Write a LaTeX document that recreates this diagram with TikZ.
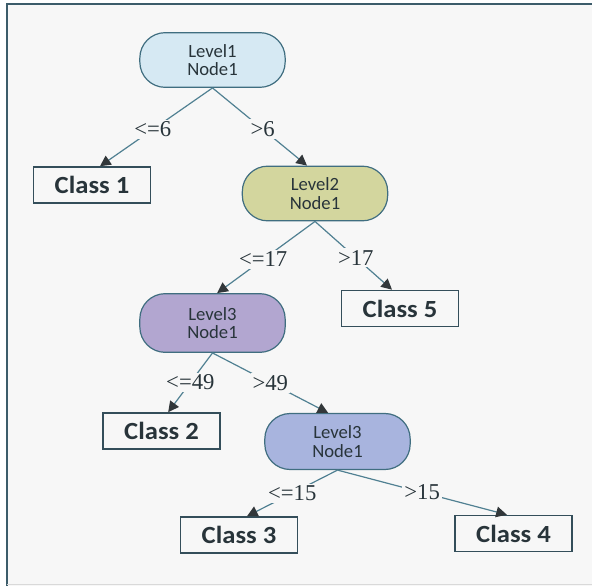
\documentclass[tikz,border=0pt]{standalone}
\usepackage{fontspec}
\usepackage{tikz}
\usetikzlibrary{arrows.meta}

\newfontfamily\clsfont[FakeStretch=1.08]{Carlito}
\newfontfamily\lvlfont{Carlito}
\newfontfamily\lblfont{Liberation Serif}

\definecolor{bgcol}{RGB}{247,247,247}
\definecolor{framecol}{RGB}{60,92,106}
\definecolor{nodeline}{RGB}{64,110,128}
\definecolor{boxline}{RGB}{52,78,90}
\definecolor{edgecol}{RGB}{80,128,146}
\definecolor{tipcol}{RGB}{50,55,58}
\definecolor{textgrey}{RGB}{40,52,58}
\definecolor{lvlone}{RGB}{214,233,243}
\definecolor{lvltwo}{RGB}{211,214,158}
\definecolor{lvlthree}{RGB}{178,166,208}
\definecolor{lvlfour}{RGB}{168,180,222}

\tikzset{
  lvl/.style={rectangle, rounded corners=19pt, draw=nodeline, line width=0.9pt,
    minimum width=109pt, minimum height=41pt, inner sep=0pt, align=center,
    font=\lvlfont\fontsize{14}{14}\selectfont, text=textgrey},
  cls/.style={rectangle, draw=boxline, line width=1.2pt, minimum width=88pt,
    minimum height=27pt, inner sep=0pt, font=\clsfont\bfseries\fontsize{18.5}{20}\selectfont, text=textgrey},
  cut/.style={fill=bgcol, inner sep=1.5pt, font=\lblfont\fontsize{17}{18}\selectfont, text=textgrey},
  branch/.style={draw=edgecol, line width=0.9pt, -{Triangle[length=8pt,width=8pt,color=tipcol]}},
}

\begin{document}
\begin{tikzpicture}[x=0.75pt,y=0.75pt,yscale=-1,xscale=1]
        \useasboundingbox (0,0) rectangle (592,586);
        %Frame
        \fill [bgcol] (6.5,3.5) rectangle (592,586) ;
        \draw [framecol, line width=1.5pt] (6.5,586) -- (6.5,3.5) -- (592,3.5) ;
        \draw [black!15, line width=0.75pt] (6.5,584) -- (592,584) ;

        % Decision Nodes
        \node [lvl, fill=lvlone] (l1) at (212.5,60) {Level1\\Node1};
        \node [lvl, fill=lvltwo] (l2) at (315,193.5) {Level2\\Node1};
        \node [lvl, fill=lvlthree, minimum height=44pt] (l3) at (212.5,323) {Level3\\Node1};
        \node [lvl, fill=lvlfour, minimum height=42pt] (l3b) at (337.5,441.5) {Level3\\Node1};

        % Class Nodes
        \node [cls] (c1) at (92,185) {Class 1};
        \node [cls] (c5) at (400,308.5) {Class 5};
        \node [cls] (c2) at (161.5,431) {Class 2};
        \node [cls] (c3) at (239,535) {Class 3};
        \node [cls] (c4) at (513.5,533.5) {Class 4};

        % Branches
        \draw [branch] (l1.south) -- node [cut, pos=0.53] {<=6} ([xshift=6pt]c1.north) ;
        \draw [branch] (l1.south) -- node [cut, pos=0.53] {>6} ([xshift=-6pt]l2.north) ;
        \draw [branch] (l2.south) -- node [cut, pos=0.53] {<=17} ([xshift=3.5pt]l3.north) ;
        \draw [branch] (l2.south) -- node [cut, pos=0.53] {>17} ([xshift=-6pt]c5.north) ;
        \draw [branch] (l3.south) -- node [cut, pos=0.5] {<=49} ([xshift=5pt]c2.north) ;
        \draw [branch] (l3.south) -- node [cut, pos=0.5] {>49} ([xshift=-7pt]l3b.north) ;
        \draw [branch] (l3b.south) -- node [cut, pos=0.5] {<=15} ([xshift=6pt]c3.north) ;
        \draw [branch] (l3b.south) -- node [cut, pos=0.5] {>15} ([xshift=-5pt]c4.north) ;
\end{tikzpicture}
\end{document}
